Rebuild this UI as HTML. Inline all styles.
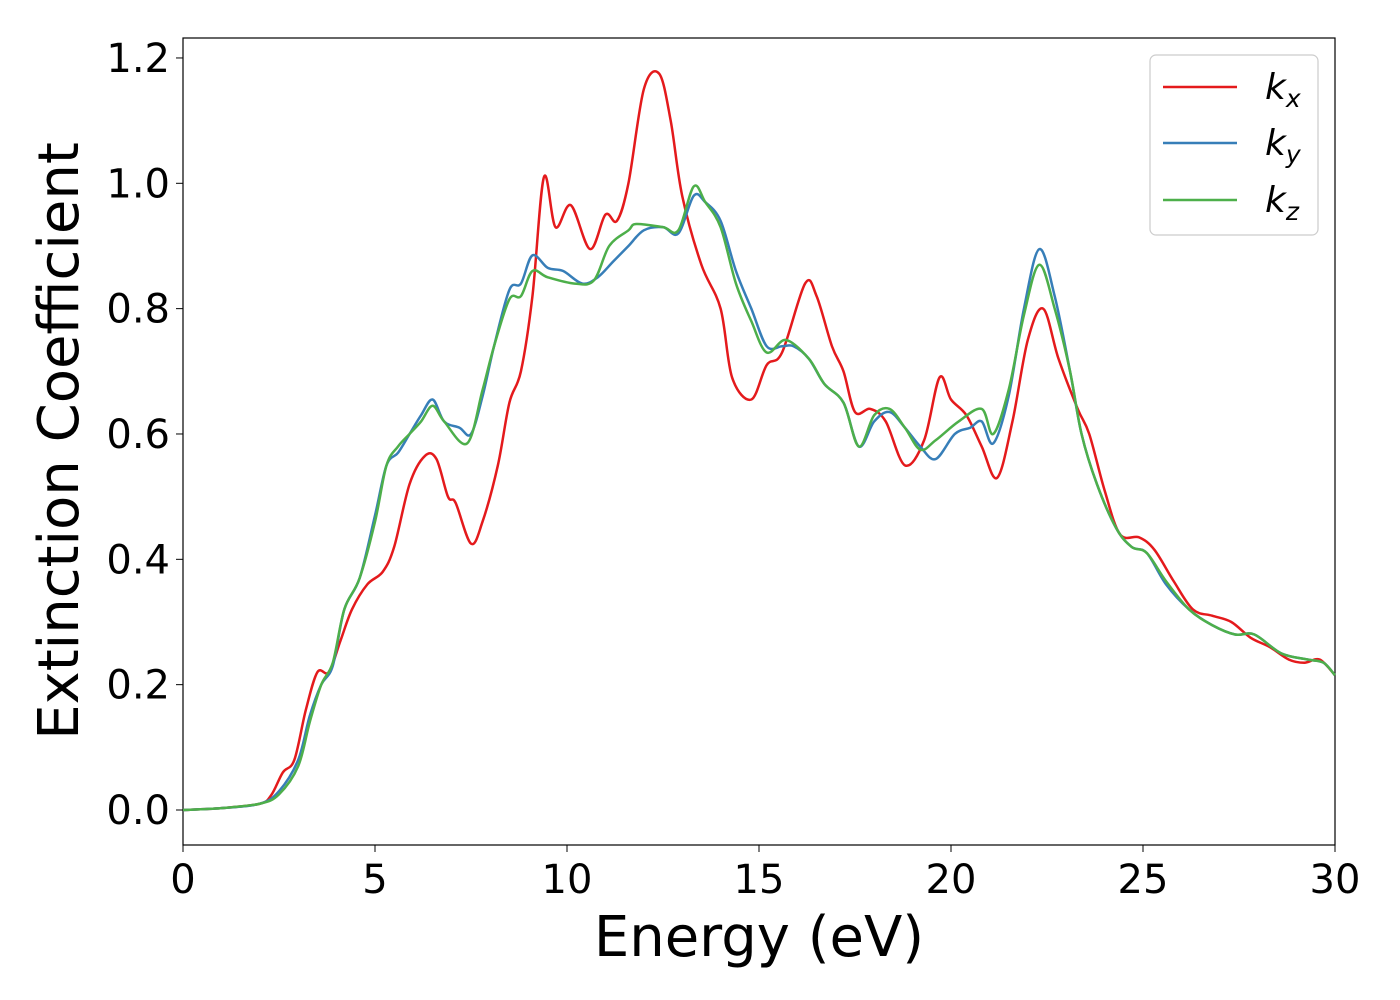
<!DOCTYPE html>
<html><head><meta charset="utf-8"><style>
body{margin:0;background:#fff;}
svg{display:block;font-family:"DejaVu Sans","Liberation Sans",sans-serif;}
</style></head><body>
<svg id="chart" width="1400" height="1000">
<rect x="183" y="38" width="1152" height="807" fill="#fff" stroke="#000" stroke-width="1.2"/>
<g id="ticks"></g>
<g id="series"></g>
<text x="759" y="956" font-size="56" text-anchor="middle">Energy (eV)</text>
<text transform="translate(78,441) rotate(-90)" font-size="56" text-anchor="middle">Extinction Coefficient</text>
<g>
<rect x="1150" y="55" width="168" height="180" rx="6" fill="#fff" stroke="#ccc" stroke-width="1.2"/>
<line x1="1163" y1="87" x2="1237" y2="87" stroke="#e41a1c" stroke-width="2.5"/>
<text x="1265" y="99" font-size="36" font-style="italic">k<tspan font-size="25" dy="8">x</tspan></text>
<line x1="1163" y1="143" x2="1237" y2="143" stroke="#377eb8" stroke-width="2.5"/>
<text x="1265" y="155" font-size="36" font-style="italic">k<tspan font-size="25" dy="8">y</tspan></text>
<line x1="1163" y1="200" x2="1237" y2="200" stroke="#4daf4a" stroke-width="2.5"/>
<text x="1265" y="212" font-size="36" font-style="italic">k<tspan font-size="25" dy="8">z</tspan></text>
</g>
</svg>
<script>
const xTicks=[0,5,10,15,20,25,30];
const yTicks=[0.0,0.2,0.4,0.6,0.8,1.0,1.2];
const kxE=[0,1,2,2.3,2.6,2.9,3.2,3.5,3.8,4.1,4.4,4.8,5.2,5.5,5.9,6.3,6.6,6.9,7.1,7.5,7.8,8.2,8.5,8.8,9.1,9.4,9.7,10.1,10.6,11.0,11.3,11.6,12.0,12.4,12.7,13.0,13.5,14.0,14.3,14.8,15.2,15.6,16.2,16.5,16.9,17.2,17.5,17.9,18.3,18.8,19.3,19.7,20.0,20.4,20.8,21.2,21.6,22.0,22.4,22.8,23.3,23.6,24.0,24.4,24.9,25.3,25.8,26.3,26.8,27.3,27.8,28.3,28.8,29.2,29.6,30];
const kxV=[0,0.003,0.01,0.024,0.06,0.08,0.16,0.22,0.22,0.27,0.32,0.36,0.38,0.42,0.52,0.565,0.56,0.5,0.49,0.425,0.46,0.55,0.65,0.7,0.82,1.01,0.93,0.965,0.895,0.95,0.94,1.0,1.15,1.175,1.1,0.98,0.87,0.8,0.69,0.655,0.71,0.73,0.84,0.82,0.74,0.7,0.635,0.64,0.62,0.55,0.59,0.69,0.655,0.63,0.58,0.53,0.62,0.75,0.8,0.72,0.64,0.6,0.51,0.44,0.435,0.415,0.365,0.32,0.31,0.3,0.275,0.26,0.24,0.235,0.24,0.215];
const kyE=[0,1,2,2.5,3,3.3,3.6,3.9,4.2,4.6,5.0,5.3,5.6,5.9,6.2,6.5,6.8,7.2,7.5,7.8,8.1,8.5,8.8,9.1,9.5,9.9,10.4,10.8,11.2,11.6,12.0,12.5,12.9,13.3,13.6,14.0,14.4,14.8,15.2,15.6,15.9,16.3,16.7,17.2,17.6,18.0,18.4,18.8,19.2,19.6,20.1,20.5,20.8,21.1,21.5,21.9,22.3,22.7,23.1,23.4,23.8,24.3,24.7,25.1,25.6,26.2,26.8,27.4,27.9,28.6,29.3,29.7,30];
const kyV=[0,0.003,0.01,0.03,0.08,0.15,0.2,0.23,0.32,0.37,0.47,0.55,0.57,0.6,0.63,0.655,0.62,0.61,0.6,0.66,0.74,0.83,0.84,0.885,0.865,0.86,0.84,0.85,0.875,0.9,0.925,0.93,0.92,0.98,0.97,0.94,0.86,0.8,0.74,0.74,0.74,0.72,0.68,0.65,0.58,0.62,0.635,0.61,0.58,0.56,0.6,0.61,0.62,0.585,0.66,0.8,0.895,0.82,0.7,0.6,0.52,0.45,0.42,0.41,0.36,0.32,0.295,0.28,0.28,0.25,0.24,0.235,0.215];
const kzE=[0,1,2,2.5,3,3.3,3.6,3.9,4.2,4.6,5.0,5.3,5.6,5.9,6.2,6.5,6.8,7.4,7.8,8.1,8.5,8.8,9.1,9.5,10.2,10.7,11.1,11.6,11.8,12.5,12.9,13.3,13.6,14.0,14.4,14.8,15.2,15.7,16.3,16.7,17.2,17.6,18.0,18.4,18.8,19.2,19.6,20.2,20.8,21.1,21.5,21.9,22.3,22.7,23.1,23.4,23.8,24.3,24.7,25.1,25.6,26.2,26.8,27.4,27.9,28.6,29.3,29.7,30];
const kzV=[0,0.003,0.01,0.025,0.07,0.14,0.2,0.235,0.32,0.37,0.46,0.55,0.58,0.6,0.62,0.645,0.62,0.585,0.67,0.74,0.815,0.82,0.86,0.85,0.84,0.845,0.9,0.925,0.935,0.93,0.925,0.995,0.97,0.93,0.84,0.78,0.73,0.75,0.72,0.68,0.65,0.58,0.63,0.64,0.61,0.575,0.59,0.62,0.64,0.6,0.67,0.79,0.87,0.8,0.7,0.6,0.52,0.45,0.42,0.41,0.365,0.32,0.295,0.28,0.28,0.25,0.24,0.235,0.215];
const NS="http://www.w3.org/2000/svg";
const X0=183,X1=1335,Y0=810,YS=626.7;
function sx(v){return X0+(X1-X0)*v/30;}
function sy(v){return Y0-v*YS;}
const tg=document.getElementById('ticks');
xTicks.forEach(t=>{
 const l=document.createElementNS(NS,'line');
 l.setAttribute('x1',sx(t));l.setAttribute('x2',sx(t));l.setAttribute('y1',845);l.setAttribute('y2',852);l.setAttribute('stroke','#000');
 
 
 tg.appendChild(l);
 const tx=document.createElementNS(NS,'text');
 tx.setAttribute('x',sx(t));tx.setAttribute('y',893);tx.setAttribute('font-size','40');tx.setAttribute('text-anchor','middle');
 tx.textContent=t;
 
 
 tg.appendChild(tx);
});
yTicks.forEach(t=>{
 const l=document.createElementNS(NS,'line');
 l.setAttribute('x1',176);l.setAttribute('x2',183);l.setAttribute('y1',sy(t));l.setAttribute('y2',sy(t));l.setAttribute('stroke','#000');
 
 
 tg.appendChild(l);
 const tx=document.createElementNS(NS,'text');
 tx.setAttribute('x',170);tx.setAttribute('y',sy(t)+14);tx.setAttribute('font-size','40');tx.setAttribute('text-anchor','end');
 tx.textContent=t.toFixed(1);
 
 
 tg.appendChild(tx);
});
function pathD(E,V){
 const p=E.map((e,i)=>[sx(e),sy(V[i])]);
 let d='M'+p[0][0]+','+p[0][1];
 for(let i=0;i<p.length-1;i++){
  const a=p[Math.max(0,i-1)],b=p[i],c=p[i+1],e=p[Math.min(p.length-1,i+2)];
  const c1=[b[0]+(c[0]-a[0])/6,b[1]+(c[1]-a[1])/6];
  const c2=[c[0]-(e[0]-b[0])/6,c[1]-(e[1]-b[1])/6];
  d+=' C'+c1[0]+','+c1[1]+' '+c2[0]+','+c2[1]+' '+c[0]+','+c[1];
 }
 return d;
}
const sg=document.getElementById('series');
[[kxE,kxV,'#e41a1c','series-kx'],[kyE,kyV,'#377eb8','series-ky'],[kzE,kzV,'#4daf4a','series-kz']].forEach(s=>{
 const p=document.createElementNS(NS,'path');
 p.setAttribute('d',pathD(s[0],s[1]));p.setAttribute('fill','none');p.setAttribute('stroke',s[2]);p.setAttribute('stroke-width','2.5');
 
 
 sg.appendChild(p);
});
</script>
</body></html>
